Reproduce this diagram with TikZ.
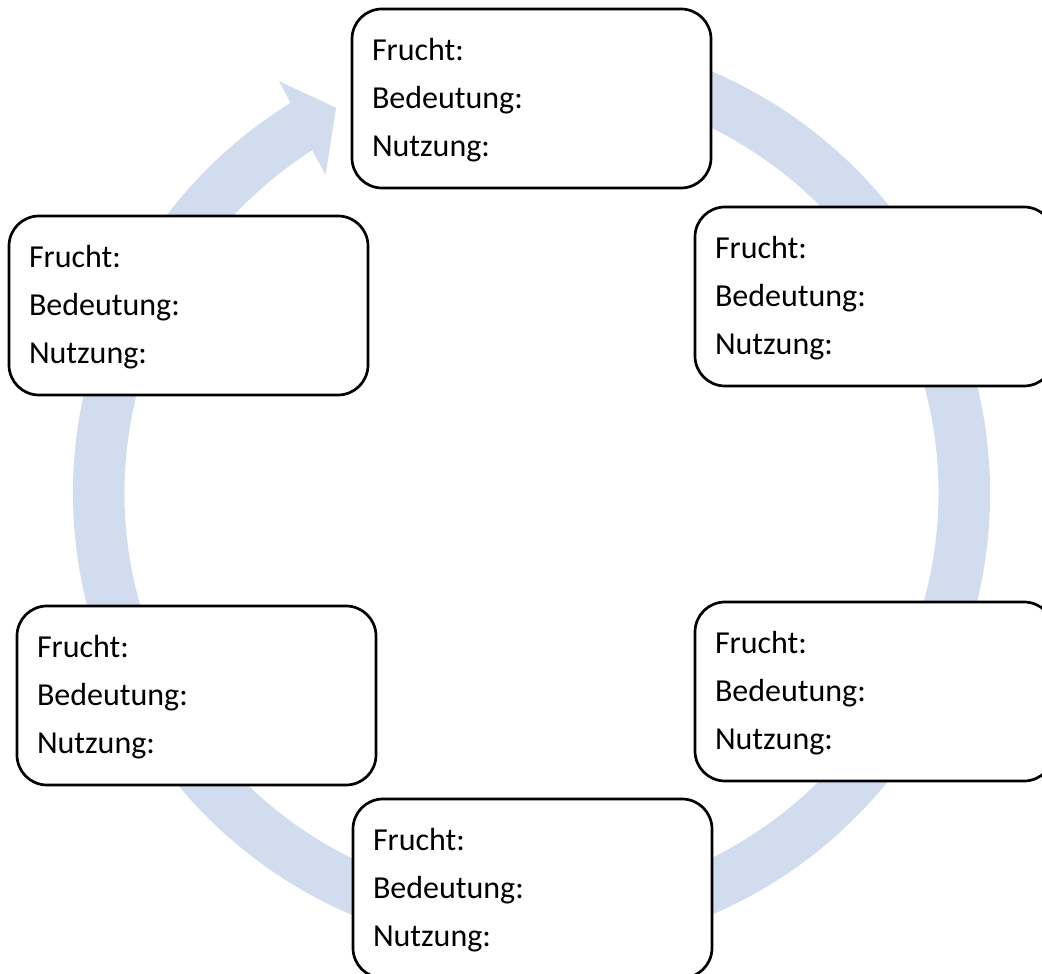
\documentclass[tikz,border=0pt]{standalone}
\usepackage{fontspec}
\setmainfont{Carlito}
\definecolor{ringblue}{HTML}{D1DDEF}
\tikzset{
  fbox/.style={draw=black, line width=2.7pt, fill=white, rounded corners=30pt,
    minimum width=359pt, minimum height=179pt, inner sep=0pt, outer sep=0pt, anchor=north west},
  ftext/.style={anchor=base west, inner sep=0pt, outer sep=0pt,
    font=\fontsize{32}{38}\selectfont}
}
\newcommand\fruchtbox[3]{%
  \node[fbox] (#1) at (#2,#3) {};
  \node[ftext] (#1-a) at ([shift={(20,-52)}]#1.north west) {Frucht:};
  \node[ftext] (#1-b) at ([shift={(20,-100)}]#1.north west) {Bedeutung:};
  \node[ftext] (#1-c) at ([shift={(20,-148)}]#1.north west) {Nutzung:};
}
\begin{document}
\begin{tikzpicture}[x=1pt,y=1pt]
\useasboundingbox (0,0) rectangle (1042,974);
\clip (0,0) rectangle (1042,974);
% circular arrow
\coordinate (c) at (531.5,481);
\fill[ringblue] ([shift={(100:458.5pt)}]c)
  arc[start angle=100, end angle=-238.3, radius=458.5pt]
  -- ([shift={(-238.5:483pt)}]c)
  -- ([shift={(-243.1:432pt)}]c)
  -- ([shift={(-237.1:379pt)}]c)
  -- ([shift={(-237.4:407pt)}]c)
  arc[start angle=-237.4, end angle=100, radius=407pt]
  -- cycle;
% boxes
\fruchtbox{top}{352}{965}
\fruchtbox{ru}{695}{767}
\fruchtbox{rl}{695}{372}
\fruchtbox{bot}{353}{175}
\fruchtbox{ll}{17}{368}
\fruchtbox{lu}{9}{758}
\end{tikzpicture}
\end{document}
